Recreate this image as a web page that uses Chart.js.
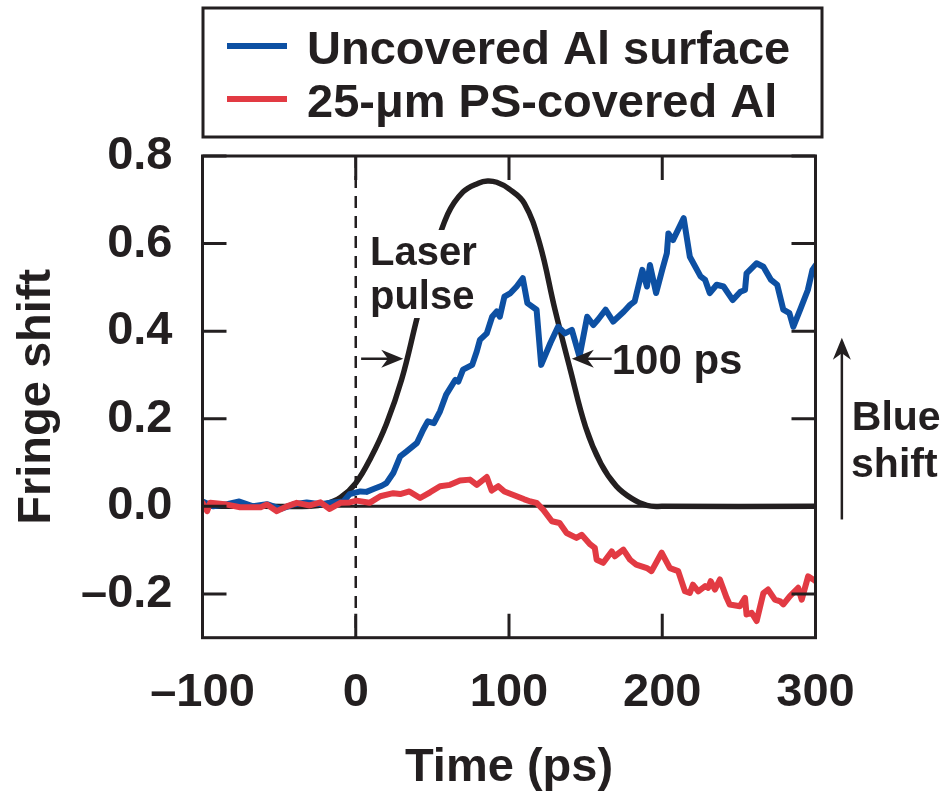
<!DOCTYPE html>
<html>
<head>
<meta charset="utf-8">
<script src="https://cdn.jsdelivr.net/npm/chart.js@4.4.1/dist/chart.umd.min.js"></script>
<style>
  body { margin: 0; background: #fff; }
  #wrap { width: 947px; height: 796px; }
</style>
</head>
<body>
<div id="wrap"><canvas id="fringe-chart" width="947" height="796"></canvas></div>
<script>
// axis ticks
const timeTicks = [-100, 0, 100, 200, 300];
const shiftTicks = [-0.2, 0, 0.2, 0.4, 0.6, 0.8];

// uncovered Al surface (blue)
const uncoveredT = [-100, -93, -84, -76, -67, -58, -49, -41, -32, -23, -15, -8, -4, 3, 7, 12, 17, 20, 24.5, 29, 33, 40, 44, 47, 51, 55, 59, 65, 67, 70, 76, 79, 81, 85.5, 89, 92, 94, 97, 101, 105, 109, 112, 118, 121, 127, 132, 136.5, 141, 146, 151, 155, 158, 163, 168, 175, 179, 182, 187, 190, 192, 196, 200, 203, 204, 207, 214, 218, 225, 228, 231, 235.5, 240, 246, 251, 254, 255, 261.5, 266, 271, 275, 279, 283, 285.5, 290, 295, 298, 300];
const uncoveredV = [0.011, 0.0, 0.005, 0.011, 0.0, 0.005, -0.006, 0.004, 0.009, 0.005, 0.009, 0.011, 0.028, 0.034, 0.033, 0.04, 0.047, 0.053, 0.076, 0.114, 0.125, 0.145, 0.175, 0.194, 0.19, 0.217, 0.255, 0.289, 0.285, 0.312, 0.323, 0.354, 0.38, 0.395, 0.433, 0.445, 0.433, 0.479, 0.487, 0.502, 0.521, 0.464, 0.449, 0.323, 0.373, 0.41, 0.395, 0.403, 0.342, 0.433, 0.414, 0.426, 0.449, 0.422, 0.445, 0.46, 0.468, 0.54, 0.502, 0.551, 0.487, 0.54, 0.578, 0.623, 0.608, 0.658, 0.57, 0.525, 0.517, 0.487, 0.506, 0.502, 0.471, 0.49, 0.494, 0.532, 0.555, 0.547, 0.517, 0.506, 0.449, 0.441, 0.41, 0.449, 0.494, 0.54, 0.55];

// 25-um PS-covered Al (red)
const coveredT = [-100, -97, -95, -84, -75.5, -62, -58, -51.5, -45, -38.5, -30, -23, -17, -10, -4, 0.6, 9, 16, 24.5, 29, 35, 42, 48.5, 55, 61.5, 68, 74.5, 79, 85.5, 88.7, 93, 97, 105, 110, 114, 118, 122.4, 128, 133, 137.6, 144, 147.4, 153, 156, 157.2, 161.5, 167, 169, 174.6, 179, 183, 190, 193, 199.6, 205, 210.4, 214.8, 218, 220, 223.5, 228, 230, 231.6, 234.4, 237.6, 242, 244, 250.7, 254, 255, 258.3, 261.6, 266, 269, 273.5, 277, 279, 283.3, 288.7, 291, 295.2, 298.5, 300];
const coveredV = [0.008, -0.011, 0.008, 0.004, -0.002, -0.002, 0.004, -0.011, 0.0, 0.008, 0.002, 0.009, -0.006, 0.008, 0.009, 0.013, 0.008, 0.023, 0.03, 0.028, 0.034, 0.019, 0.032, 0.046, 0.049, 0.059, 0.061, 0.049, 0.067, 0.036, 0.046, 0.034, 0.023, 0.016, 0.011, 0.008, -0.008, -0.034, -0.038, -0.061, -0.072, -0.065, -0.087, -0.095, -0.122, -0.129, -0.103, -0.114, -0.099, -0.122, -0.133, -0.141, -0.148, -0.106, -0.141, -0.148, -0.194, -0.198, -0.179, -0.194, -0.182, -0.186, -0.171, -0.19, -0.167, -0.209, -0.224, -0.228, -0.209, -0.247, -0.243, -0.262, -0.198, -0.19, -0.213, -0.217, -0.224, -0.205, -0.186, -0.213, -0.16, -0.167, -0.171];

// laser pulse (black)
const pulseT = [-100, -60, -30, -20, -10, 0, 10, 20, 30, 40, 50, 60, 70, 80, 86, 92, 100, 110, 120, 130, 140, 150, 160, 170, 180, 190, 200, 300];
const pulseV = [0, 0, 0, 0.005, 0.02, 0.053, 0.112, 0.188, 0.29, 0.43, 0.563, 0.667, 0.718, 0.738, 0.743, 0.740, 0.725, 0.692, 0.60, 0.449, 0.312, 0.181, 0.097, 0.046, 0.018, 0.002, 0, 0];

const seriesNames = ['Uncovered Al surface', '25-\u03bcm PS-covered Al'];

const BLUE = '#0d50a3';
const RED = '#e23a43';
const INK = '#231f20';
const FONT = "'Liberation Sans', Arial, sans-serif";

const toPoints = (xs, ys) => xs.map((x, i) => ({ x: x, y: ys[i] }));
const dash = (v, digits) => (v < 0 ? '\u2013' : '') + Math.abs(v).toFixed(digits);

const framePlugin = {
    id: 'frame',
    beforeDatasetsDraw(chart) {
        const { ctx, chartArea: a, scales: { x, y } } = chart;
        ctx.save();
        // zero line
        ctx.strokeStyle = INK;
        ctx.lineWidth = 3;
        ctx.beginPath();
        ctx.moveTo(a.left, y.getPixelForValue(0));
        ctx.lineTo(a.right, y.getPixelForValue(0));
        ctx.stroke();
        // dashed t = 0 line
        ctx.lineWidth = 2.5;
        ctx.setLineDash([12, 8]);
        ctx.beginPath();
        ctx.moveTo(x.getPixelForValue(0), a.top);
        ctx.lineTo(x.getPixelForValue(0), a.bottom);
        ctx.stroke();
        ctx.restore();
    },
    afterDatasetsDraw(chart) {
        const { ctx, chartArea: a, scales: { x, y } } = chart;
        const tl = 24;
        ctx.save();
        // white knockout behind the "Laser pulse" label
        const kx0 = x.getPixelForValue(6.7), kx1 = x.getPixelForValue(82.4);
        const ky0 = y.getPixelForValue(0.631), ky1 = y.getPixelForValue(0.43);
        ctx.fillStyle = '#fff';
        ctx.fillRect(kx0, ky0, kx1 - kx0, ky1 - ky0);

        ctx.strokeStyle = INK;
        ctx.lineWidth = 3;
        ctx.strokeRect(a.left, a.top, a.right - a.left, a.bottom - a.top);
        ctx.beginPath();
        timeTicks.forEach((v) => {
            const px = x.getPixelForValue(v);
            ctx.moveTo(px, a.bottom); ctx.lineTo(px, a.bottom - tl);
            ctx.moveTo(px, a.top); ctx.lineTo(px, a.top + tl);
        });
        shiftTicks.forEach((v) => {
            const py = y.getPixelForValue(v);
            ctx.moveTo(a.left, py); ctx.lineTo(a.left + tl, py);
            ctx.moveTo(a.right, py); ctx.lineTo(a.right - tl, py);
        });
        ctx.stroke();
        ctx.restore();
    },
    afterDraw(chart) {
        const { ctx, scales: { x, y } } = chart;
        ctx.save();
        ctx.fillStyle = INK;
        ctx.strokeStyle = INK;

        // legend box
        ctx.lineWidth = 3;
        ctx.strokeRect(203, 8, 619, 129);
        const rows = [[BLUE, 46, 64], [RED, 99, 117]];
        ctx.font = 'bold 47px ' + FONT;
        ctx.textBaseline = 'alphabetic';
        ctx.textAlign = 'left';
        rows.forEach(([col, ly, by], i) => {
            ctx.strokeStyle = col;
            ctx.lineWidth = 6;
            ctx.beginPath();
            ctx.moveTo(227, ly); ctx.lineTo(287, ly);
            ctx.stroke();
            ctx.fillText(seriesNames[i], 307, by);
        });

        // annotations
        ctx.font = 'bold 40px ' + FONT;
        ctx.fillText('Laser', x.getPixelForValue(9.3), y.getPixelForValue(0.552));
        ctx.fillText('pulse', x.getPixelForValue(9.3), y.getPixelForValue(0.45));
        ctx.font = 'bold 42px ' + FONT;
        ctx.fillText('100 ps', x.getPixelForValue(167), y.getPixelForValue(0.303));
        ctx.font = 'bold 41px ' + FONT;
        ctx.fillText('Blue', x.getPixelForValue(323.7), y.getPixelForValue(0.175));
        ctx.fillText('shift', x.getPixelForValue(323.2), y.getPixelForValue(0.066));

        // arrows
        const arrow = (x0, y0, x1, y1) => {
            const ang = Math.atan2(y1 - y0, x1 - x0);
            const hl = 22, hw = 9;
            ctx.strokeStyle = INK;
            ctx.lineWidth = 2.5;
            ctx.beginPath();
            ctx.moveTo(x0, y0);
            ctx.lineTo(x1 - Math.cos(ang) * hl * 0.6, y1 - Math.sin(ang) * hl * 0.6);
            ctx.stroke();
            ctx.beginPath();
            ctx.moveTo(x1, y1);
            ctx.lineTo(x1 - Math.cos(ang) * hl - Math.sin(ang) * hw, y1 - Math.sin(ang) * hl + Math.cos(ang) * hw);
            ctx.lineTo(x1 - Math.cos(ang) * hl * 0.7, y1 - Math.sin(ang) * hl * 0.7);
            ctx.lineTo(x1 - Math.cos(ang) * hl + Math.sin(ang) * hw, y1 - Math.sin(ang) * hl - Math.cos(ang) * hw);
            ctx.closePath();
            ctx.fill();
        };
        const ay = y.getPixelForValue(0.337);
        arrow(x.getPixelForValue(3.5), ay, x.getPixelForValue(31), ay);
        arrow(x.getPixelForValue(167), ay, x.getPixelForValue(141), ay);
        arrow(x.getPixelForValue(317.2), y.getPixelForValue(-0.03), x.getPixelForValue(317.2), y.getPixelForValue(0.385));
        ctx.restore();
    }
};

const lineSet = (label, xs, ys, color, order, extra) => Object.assign({
    label: label,
    data: toPoints(xs, ys),
    borderColor: color,
    borderWidth: 6,
    pointRadius: 0,
    fill: false,
    tension: 0,
    borderCapStyle: 'round',
    borderJoinStyle: 'round',
    order: order
}, extra || {});

new Chart(document.querySelector('#fringe-chart').getContext('2d'), {
    type: 'line',
    data: {
        datasets: [
            lineSet(seriesNames[0], uncoveredT, uncoveredV, BLUE, 2),
            lineSet(seriesNames[1], coveredT, coveredV, RED, 1),
            lineSet('Laser pulse', pulseT, pulseV, INK, 3, { tension: 0.4, borderWidth: 5.5 })
        ]
    },
    options: {
        responsive: false,
        animation: false,
        layout: { padding: { top: 156, right: 131.5, left: 0, bottom: 0 } },
        plugins: { legend: { display: false }, tooltip: { enabled: false } },
        scales: {
            x: {
                type: 'linear',
                min: -100,
                max: 300,
                afterBuildTicks: (s) => { s.ticks = timeTicks.map((v) => ({ value: v })); },
                afterFit: (s) => { s.height = 158.3; },
                grid: { display: false, drawTicks: false },
                border: { display: false },
                ticks: {
                    autoSkip: false, maxRotation: 0, padding: 27, color: INK,
                    font: { family: FONT, size: 47, weight: 'bold' },
                    callback: (v) => dash(v, 0)
                },
                title: {
                    display: true, text: 'Time (ps)', color: INK, padding: 0,
                    font: { family: FONT, size: 47, weight: 'bold' }
                }
            },
            y: {
                min: -0.3,
                max: 0.8,
                afterBuildTicks: (s) => { s.ticks = shiftTicks.map((v) => ({ value: v })); },
                afterFit: (s) => { s.width = 202.5; },
                grid: { display: false, drawTicks: false },
                border: { display: false },
                ticks: {
                    autoSkip: false, padding: 30, color: INK,
                    font: { family: FONT, size: 47, weight: 'bold' },
                    callback: (v) => dash(v, 1)
                },
                title: {
                    display: true, text: 'Fringe shift', color: INK, padding: { top: 9, bottom: 0 },
                    font: { family: FONT, size: 47, weight: 'bold' }
                }
            }
        }
    },
    plugins: [framePlugin]
});
</script>
</body>
</html>
